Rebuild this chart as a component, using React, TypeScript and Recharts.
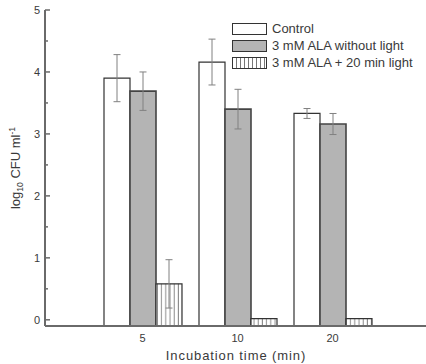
import { BarChart, Bar, XAxis, YAxis, ErrorBar, Legend } from 'recharts';

// Incubation times (min)
const categories = ['5', '10', '20'];
// log10 CFU/ml
const control = [3.9, 4.16, 3.33];
const controlErr = [0.38, 0.37, 0.08];
const alaDark = [3.69, 3.4, 3.16];
const alaDarkErr = [0.31, 0.32, 0.17];
const alaLight = [0.58, 0.02, 0.02];
const alaLightErr = [0.39, 0, 0];
const yTicks = [0, 0.5, 1, 1.5, 2, 2.5, 3, 3.5, 4, 4.5, 5];

const Y_MIN = -0.1;
const FONT = '"Liberation Sans", Arial, sans-serif';
const TEXT = '#3a3a3a';
const AXIS = '#6a6a6a';

const data = categories.map((c, i) => ({
    name: c,
    control: control[i],
    controlErr: controlErr[i],
    alaDark: alaDark[i],
    alaDarkErr: alaDarkErr[i],
    alaLight: alaLight[i],
    alaLightErr: alaLightErr[i],
}));

const legendItems = [
    { label: 'Control', bg: '#fff', border: '#333' },
    { label: '3 mM ALA without light', bg: '#b4b4b4', border: '#333' },
    { label: '3 mM ALA + 20 min light', bg: 'repeating-linear-gradient(90deg, #fff 0px, #fff 3px, #777 3px, #777 4px)', border: '#333' },
];

// y ticks drawn inward, labels only on whole numbers
function YTick(props: any) {
    const { x, y, payload } = props;
    const v = payload.value as number;
    const major = Number.isInteger(v);
    return (
        <g>
            <line x1={x} x2={x + (major ? 5 : 3)} y1={y} y2={y} stroke={AXIS} strokeWidth={1.5} />
            {major && (
                <text x={x - 5} y={y} dy={4} textAnchor="end" fontSize={11} fill={TEXT} fontFamily={FONT}>
                    {v}
                </text>
            )}
        </g>
    );
}

function YLabel(props: any) {
    const vb = props.viewBox;
    const cx = 16;
    const cy = vb.y + vb.height / 2;
    return (
        <text x={cx} y={cy} transform={`rotate(-90, ${cx}, ${cy})`} textAnchor="middle" dy={4} fontSize={13} fill={TEXT} fontFamily={FONT}>
            log<tspan fontSize={8.5} dy={3}>10</tspan>
            <tspan dy={-3}> CFU ml</tspan>
            <tspan fontSize={8.5} dy={-5}>-1</tspan>
        </text>
    );
}

function LegendBox() {
    return (
        <div style={{ fontFamily: FONT, fontSize: 13, color: TEXT }}>
            {legendItems.map(it => (
                <div key={it.label} style={{ display: 'flex', alignItems: 'center', height: 17, whiteSpace: 'nowrap' }}>
                    <span style={{ width: 33, height: 10, background: it.bg, border: `1.5px solid ${it.border}`, marginRight: 5 }} />
                    <span>{it.label}</span>
                </div>
            ))}
        </div>
    );
}

export default function App() {
    return (
        <div style={{ position: 'fixed', left: 0, top: 0, width: 426, height: 364, overflow: 'hidden', background: '#fff' }}>
            <BarChart
                width={445}
                height={364}
                data={data}
                margin={{ top: 10, right: 18, bottom: 0, left: 0 }}
                barSize={26}
                barGap={0}
            >
                <defs>
                    <pattern id="vstripe" width={4.2} height={10} patternUnits="userSpaceOnUse">
                        <rect width={4.2} height={10} fill="#fff" />
                        <line x1={2} x2={2} y1={0} y2={10} stroke="#8a8a8a" strokeWidth={1} />
                    </pattern>
                </defs>
                <XAxis
                    dataKey="name"
                    height={38}
                    padding={{ left: 50, right: 47 }}
                    tickLine={false}
                    tickSize={0}
                    tickMargin={8}
                    axisLine={{ stroke: AXIS, strokeWidth: 2 }}
                    tick={{ fontSize: 11, fill: TEXT, fontFamily: FONT }}
                    label={{ value: 'Incubation time (min)', position: 'insideBottom', offset: 4, fontSize: 13, fill: TEXT, fontFamily: FONT, letterSpacing: 0.9 }}
                />
                <XAxis xAxisId="top" orientation="top" dataKey="name" height={0} tick={false} tickLine={false} axisLine={{ stroke: AXIS, strokeWidth: 2 }} />
                <YAxis
                    width={45}
                    domain={[Y_MIN, 5]}
                    ticks={yTicks}
                    interval={0}
                    tickSize={0}
                    tickMargin={0}
                    tickLine={false}
                    tick={<YTick />}
                    axisLine={{ stroke: AXIS, strokeWidth: 2 }}
                    label={{ content: <YLabel /> }}
                />
                <Legend
                    layout="horizontal"
                    verticalAlign="middle"
                    align="center"
                    wrapperStyle={{ top: 20, left: 232, width: 'auto' }}
                    content={<LegendBox />}
                />
                <Bar dataKey={(d: any) => [Y_MIN, d.control]} name="Control" fill="#fff" stroke="#333" strokeWidth={1.2} isAnimationActive={false}>
                    <ErrorBar dataKey="controlErr" width={3.5} stroke="#808080" strokeWidth={1} />
                </Bar>
                <Bar dataKey={(d: any) => [Y_MIN, d.alaDark]} name="3 mM ALA without light" fill="#b4b4b4" stroke="#444" strokeWidth={1.6} isAnimationActive={false}>
                    <ErrorBar dataKey="alaDarkErr" width={3.5} stroke="#808080" strokeWidth={1} />
                </Bar>
                <Bar dataKey={(d: any) => [Y_MIN, d.alaLight]} name="3 mM ALA + 20 min light" fill="url(#vstripe)" stroke="#333" strokeWidth={1.2} isAnimationActive={false}>
                    <ErrorBar dataKey="alaLightErr" width={3.5} stroke="#808080" strokeWidth={1} />
                </Bar>
            </BarChart>
        </div>
    );
}
